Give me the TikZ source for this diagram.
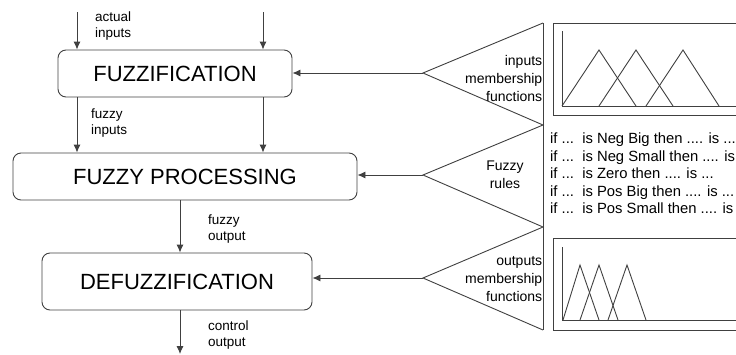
\documentclass[tikz,border=0pt]{standalone}
\usepackage{fontspec}
\setmainfont{Liberation Sans}
\usepackage{xcolor}
\usetikzlibrary{arrows.meta}

\tikzset{
  wire/.style={draw=black!75, line width=0.9pt},
  block/.style={wire, rounded corners=8pt, inner sep=0pt, font=\fontsize{22}{26}\selectfont},
  lbl/.style={inner sep=0pt, align=left, font=\fontsize{13.5}{16.5}\selectfont},
  mflbl/.style={inner sep=0.6pt, align=right, anchor=east, font=\fontsize{14}{18}\selectfont},
  rulestxt/.style={inner sep=0pt, align=left, font=\fontsize{14.8}{17.5}\selectfont}
}

\begin{document}
\begin{tikzpicture}[x=1pt,y=-1pt,>={Latex[length=8pt,width=7pt]}]

\clip (0,0) rectangle (736,354);
\useasboundingbox (0,0) rectangle (736,354);

% Draw blocks
\node[block, minimum width=234pt, minimum height=47pt] (fuzz) at (175,73.5) {FUZZIFICATION};
\node[block, minimum width=344pt, minimum height=47pt] (proc) at (185,176.5) {FUZZY PROCESSING};
\node[block, minimum width=270pt, minimum height=57pt] (defuzz) at (177,281.5) {DEFUZZIFICATION};

% Draw signal arrows
\coordinate (inA) at (77,12);
\coordinate (inB) at (263,12);
\coordinate (outA) at (180,354);
\draw[wire,->] (inA) -- (inA |- fuzz.north);
\draw[wire,->] (inB) -- (inB |- fuzz.north);
\draw[wire,->] (inA |- fuzz.south) -- (inA |- proc.north);
\draw[wire,->] (inB |- fuzz.south) -- (inB |- proc.north);
\draw[wire,->] (outA |- proc.south) -- (outA |- defuzz.north);
\draw[wire,->] (outA |- defuzz.south) -- (outA);

% Signal labels
\node[lbl, anchor=west] (actlbl) at (95,26) {actual\\inputs};
\node[lbl, anchor=west] (fzinlbl) at (91,123) {fuzzy\\inputs};
\node[lbl, anchor=west] (fzoutlbl) at (208,229) {fuzzy\\output};
\node[lbl, anchor=west] (ctrllbl) at (208,335) {control\\output};

% Draw knowledge triangles
\coordinate (t0) at (543,23);
\coordinate (t1) at (543,125);
\coordinate (t2) at (543,227);
\coordinate (t3) at (543,330);
\coordinate (apexA) at (423,73);
\coordinate (apexB) at (423,175);
\coordinate (apexC) at (423,278);
\draw[wire] (t0) -- (t3);
\draw[wire] (t0) -- (apexA) -- (t1) -- (apexB) -- (t2) -- (apexC) -- (t3);
\draw[wire,->] (apexA) -- (apexA -| fuzz.east);
\draw[wire,->] (apexB) -- (apexB -| proc.east);
\draw[wire,->] (apexC) -- (apexC -| defuzz.east);

\node[mflbl] (mfin) at (543,78) {inputs\\membership\\functions};
\node[lbl, align=center, font=\fontsize{14}{18}\selectfont] (rulelbl) at (505,175) {Fuzzy\\rules};
\node[mflbl] (mfout) at (543,279) {outputs\\membership\\functions};

% Input membership functions
\draw[wire] (553,23) rectangle (750,115);
\draw[wire] (562,31) -- (562,106) -- (745,106);
\draw[wire] (562,106) -- (599,50) -- (636,106);
\draw[wire] (599,106) -- (636,50) -- (673,106);
\draw[wire] (646,106) -- (683,50) -- (719,106);

% Rule base
\node[rulestxt, anchor=north west] (rules) at (550,133) {if ...\ \ is Neg Big then .... is ...\\
if ...\ \ is Neg Small then .... is\\
if ...\ \ is Zero then .... is ...\\
if ...\ \ is Pos Big then .... is ...\\
if ...\ \ is Pos Small then .... is};

% Output membership functions
\draw[wire] (553,238) rectangle (750,330);
\draw[wire] (562,247) -- (562,320) -- (745,320);
\draw[wire] (563,320) -- (580,265) -- (599,320);
\draw[wire] (580,320) -- (599,265) -- (618,320);
\draw[wire] (608,320) -- (627,265) -- (646,320);

\end{tikzpicture}
\end{document}
